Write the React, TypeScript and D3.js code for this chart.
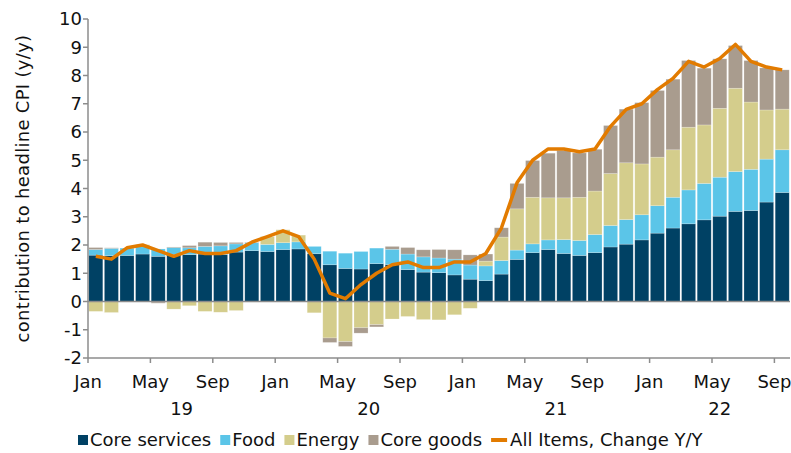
import { useEffect, useRef } from 'react';
import * as d3 from 'd3';

// Jan 2019 .. Sep 2022, monthly
const periods = d3.timeMonth.range(new Date(2019, 0, 1), new Date(2022, 9, 1));

const coreServices = [1.64, 1.62, 1.63, 1.68, 1.60, 1.66, 1.66, 1.68, 1.66, 1.75, 1.80, 1.77, 1.84, 1.86, 1.69,
  1.30, 1.17, 1.15, 1.34, 1.31, 1.13, 1.04, 1.02, 0.94, 0.79, 0.74, 0.97, 1.49, 1.73, 1.84,
  1.70, 1.63, 1.73, 1.93, 2.03, 2.18, 2.42, 2.60, 2.75, 2.89, 3.02, 3.19, 3.22, 3.52, 3.86];
const food = [0.20, 0.26, 0.26, 0.28, 0.26, 0.25, 0.24, 0.27, 0.31, 0.29, 0.28, 0.25, 0.24, 0.25, 0.26,
  0.48, 0.54, 0.62, 0.55, 0.54, 0.55, 0.54, 0.52, 0.56, 0.50, 0.52, 0.48, 0.33, 0.31, 0.34,
  0.49, 0.53, 0.64, 0.76, 0.87, 0.89, 0.97, 1.09, 1.20, 1.29, 1.38, 1.41, 1.46, 1.52, 1.51];
const energy = [-0.35, -0.39, -0.01, 0.05, -0.02, -0.27, -0.15, -0.35, -0.38, -0.32, -0.02, 0.28, 0.46, 0.24, -0.40,
  -1.29, -1.42, -0.93, -0.82, -0.62, -0.53, -0.64, -0.65, -0.47, -0.24, 0.17, 0.83, 1.46, 1.65, 1.49,
  1.48, 1.53, 1.54, 1.84, 2.01, 1.80, 1.72, 1.68, 2.22, 2.07, 2.44, 2.95, 2.38, 1.74, 1.44];
const coreGoods = [0.07, 0.02, 0.00, 0.00, -0.04, 0.02, 0.08, 0.15, 0.12, 0.05, 0.02, 0.00, 0.00, 0.00, 0.00,
  -0.16, -0.17, -0.19, -0.08, 0.10, 0.23, 0.25, 0.30, 0.33, 0.36, 0.25, 0.33, 0.90, 1.30, 1.58,
  1.68, 1.57, 1.48, 1.70, 1.90, 2.17, 2.36, 2.50, 2.36, 2.01, 1.75, 1.51, 1.47, 1.49, 1.39];
const allItems = [1.6, 1.5, 1.9, 2.0, 1.8, 1.6, 1.8, 1.7, 1.7, 1.8, 2.1, 2.3, 2.5, 2.3, 1.5,
  0.3, 0.1, 0.6, 1.0, 1.3, 1.4, 1.2, 1.2, 1.4, 1.4, 1.7, 2.6, 4.2, 5.0, 5.4,
  5.4, 5.3, 5.4, 6.2, 6.8, 7.0, 7.5, 7.9, 8.5, 8.3, 8.6, 9.1, 8.5, 8.3, 8.2];

const seriesKeys = ['Core services', 'Food', 'Energy', 'Core goods'];
const seriesColors = ['#004164', '#5bc5e8', '#d4cd8c', '#a99c8e'];
const lineLabel = 'All Items, Change Y/Y';
const lineColor = '#e27b00';
const yLabel = 'contribution to headline CPI (y/y)';

const FONT = "'DejaVu Sans', Verdana, sans-serif";
const FS = 18;

export default function App() {
  const svgRef = useRef<SVGSVGElement>(null);

  useEffect(() => {
    document.body.style.margin = '0';
    const svg = d3.select(svgRef.current);
    svg.selectAll('*').remove();

    const rows = periods.map((d, i) => ({
      i,
      'Core services': coreServices[i],
      'Food': food[i],
      'Energy': energy[i],
      'Core goods': coreGoods[i],
    }));

    const x = d3.scaleBand<number>()
      .domain(d3.range(periods.length))
      .range([88, 790])
      .paddingInner(0.1)
      .paddingOuter(0.05);
    const y = d3.scaleLinear().domain([-2, 10]).range([358, 19]);
    const gapHalf = (x.step() - x.bandwidth()) / 2;
    const edge = (i: number) => (x(i) as number) - gapHalf;

    const stacked = d3.stack<any>()
      .keys(seriesKeys)
      .offset(d3.stackOffsetDiverging)(rows);

    const axisColor = '#8c8c8c';

    // bars
    svg.append('g')
      .selectAll('g')
      .data(stacked)
      .join('g')
      .attr('fill', (_, k) => seriesColors[k])
      .selectAll('rect')
      .data(d => d)
      .join('rect')
      .attr('x', d => x(d.data.i) as number)
      .attr('width', x.bandwidth())
      .attr('y', d => y(Math.max(d[0], d[1])))
      .attr('height', d => Math.abs(y(d[0]) - y(d[1])))
      .attr('stroke', 'rgba(255,255,255,0.35)')
      .attr('stroke-width', 0.6);

    // axes
    const ax = svg.append('g').attr('stroke', axisColor).attr('stroke-width', 1.5);
    ax.append('line').attr('x1', 88).attr('x2', 88).attr('y1', y(10)).attr('y2', y(-2));
    ax.append('line').attr('x1', 88).attr('x2', 790).attr('y1', y(-2)).attr('y2', y(-2));
    ax.append('line').attr('x1', 88).attr('x2', 790).attr('y1', y(0)).attr('y2', y(0));

    const yTicks = y.ticks(12);
    ax.selectAll('.yt').data(yTicks).join('line')
      .attr('x1', 83).attr('x2', 88)
      .attr('y1', d => y(d)).attr('y2', d => y(d));

    svg.append('g')
      .attr('font-family', FONT).attr('font-size', FS).attr('fill', '#111')
      .attr('text-anchor', 'end')
      .selectAll('text').data(yTicks).join('text')
      .attr('x', 82).attr('y', d => y(d)).attr('dy', '0.36em')
      .text(d => String(d));

    // x ticks at Jan / May / Sep
    const tickIdx = periods.map((_, i) => i).filter(i => periods[i].getMonth() % 4 === 0);
    ax.selectAll('.xt').data(tickIdx).join('line')
      .attr('x1', d => edge(d)).attr('x2', d => edge(d))
      .attr('y1', y(-2)).attr('y2', y(-2) + 5);

    const fmtMonth = d3.timeFormat('%b');
    svg.append('g')
      .attr('font-family', FONT).attr('font-size', FS).attr('fill', '#111')
      .attr('text-anchor', 'middle')
      .selectAll('text').data(tickIdx).join('text')
      .attr('x', d => edge(d)).attr('y', 388)
      .text(d => fmtMonth(periods[d]));

    // year labels centered on each year's months
    const byYear = d3.groups(periods.map((d, i) => ({ d, i })), v => v.d.getFullYear());
    svg.append('g')
      .attr('font-family', FONT).attr('font-size', FS).attr('fill', '#111')
      .attr('text-anchor', 'middle')
      .selectAll('text').data(byYear).join('text')
      .attr('x', ([, v]) => (edge(v[0].i) + edge(v[v.length - 1].i) + x.step()) / 2)
      .attr('y', 415)
      .text(([yr]) => String(yr).slice(2));

    // line
    const line = d3.line<number>()
      .x((_, i) => (x(i) as number) + x.bandwidth() / 2)
      .y(d => y(d));
    svg.append('path')
      .datum(allItems)
      .attr('fill', 'none')
      .attr('stroke', lineColor)
      .attr('stroke-width', 3.5)
      .attr('stroke-linejoin', 'round')
      .attr('d', line);

    // y title
    svg.append('text')
      .attr('transform', `translate(29,${(y(10) + y(-2)) / 2}) rotate(-90)`)
      .attr('text-anchor', 'middle')
      .attr('font-family', FONT).attr('font-size', FS).attr('letter-spacing', 0.3).attr('fill', '#111')
      .text(yLabel);

    // legend
    const lg = svg.append('g').attr('font-family', FONT).attr('font-size', FS).attr('fill', '#111');
    let lx = 78;
    const ly = 446;
    seriesKeys.forEach((k, idx) => {
      lg.append('rect').attr('x', lx).attr('y', ly - 11).attr('width', 10).attr('height', 10)
        .attr('fill', seriesColors[idx]);
      const t = lg.append('text').attr('x', lx + 12).attr('y', ly).text(k);
      lx += 12 + (t.node() as SVGTextElement).getComputedTextLength() + 9;
    });
    lg.append('line').attr('x1', lx).attr('x2', lx + 16).attr('y1', ly - 6).attr('y2', ly - 6)
      .attr('stroke', lineColor).attr('stroke-width', 4);
    lg.append('text').attr('x', lx + 19).attr('y', ly).text(lineLabel);
  }, []);

  return <svg ref={svgRef} width={791} height={453} style={{ display: 'block', background: '#fff' }} />;
}
